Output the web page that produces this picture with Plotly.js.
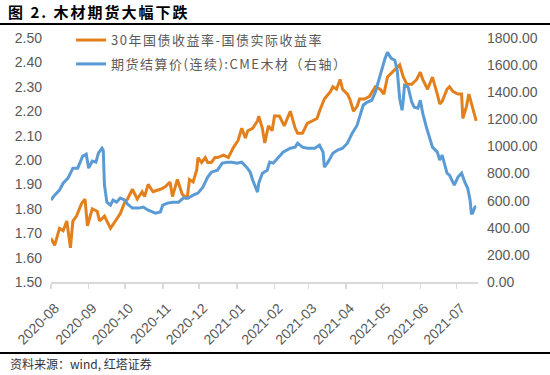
<!DOCTYPE html>
<html>
<head>
<meta charset="utf-8">
<script src="https://cdn.plot.ly/plotly-3.0.1.min.js"></script>
<style>
  html, body { margin: 0; padding: 0; background: #fff; }
  #chart { width: 550px; height: 375px; }
  .gtitle { letter-spacing: 2px; }
  .legendtext { letter-spacing: 1.5px; }
</style>
</head>
<body>
<div id="chart"></div>
<script>
// ---- data ----
const seriesNames = ['30年国债收益率-国债实际收益率', '期货结算价(连续):CME木材（右轴）'];

const yieldDates = [
  '2020-08-01','2020-08-04','2020-08-08','2020-08-11','2020-08-14','2020-08-17','2020-08-19','2020-08-22','2020-08-26','2020-08-29','2020-08-31',
  '2020-09-04','2020-09-08','2020-09-10','2020-09-14','2020-09-19','2020-09-23','2020-09-27',
  '2020-10-01','2020-10-03','2020-10-07','2020-10-11','2020-10-15','2020-10-17','2020-10-20','2020-10-24','2020-10-30',
  '2020-11-03','2020-11-07','2020-11-09','2020-11-13','2020-11-17','2020-11-21','2020-11-23','2020-11-26','2020-11-29','2020-11-30',
  '2020-12-03','2020-12-06','2020-12-08','2020-12-11','2020-12-14','2020-12-16','2020-12-21','2020-12-25','2020-12-29',
  '2021-01-02','2021-01-05','2021-01-08','2021-01-10','2021-01-14','2021-01-18','2021-01-19','2021-01-22','2021-01-24','2021-01-27','2021-01-30',
  '2021-02-01','2021-02-05','2021-02-09','2021-02-14','2021-02-18','2021-02-20','2021-02-24','2021-02-28',
  '2021-03-04','2021-03-08','2021-03-10','2021-03-14','2021-03-19','2021-03-21','2021-03-24','2021-03-27','2021-03-29',
  '2021-04-02','2021-04-04','2021-04-07','2021-04-10','2021-04-12','2021-04-16','2021-04-20','2021-04-25','2021-04-29',
  '2021-05-02','2021-05-05','2021-05-09','2021-05-13','2021-05-15','2021-05-18','2021-05-21','2021-05-25','2021-05-29',
  '2021-06-01','2021-06-03','2021-06-07','2021-06-11','2021-06-15','2021-06-17','2021-06-19','2021-06-23','2021-06-25','2021-06-28',
  '2021-07-02','2021-07-05','2021-07-06','2021-07-09','2021-07-11','2021-07-14','2021-07-17'
];
const yieldValues = [
  1.68,1.65,1.72,1.71,1.75,1.64,1.75,1.77,1.82,1.84,1.73,
  1.80,1.79,1.75,1.77,1.72,1.75,1.78,
  1.83,1.84,1.88,1.84,1.87,1.85,1.90,1.87,1.88,
  1.89,1.91,1.85,1.92,1.86,1.84,1.92,1.91,1.96,2.01,
  1.99,2.01,1.99,1.99,2.01,2.01,2.02,2.01,2.05,
  2.08,2.13,2.09,2.12,2.13,2.16,2.18,2.13,2.07,2.14,2.12,
  2.18,2.18,2.14,2.20,2.13,2.11,2.11,2.15,
  2.16,2.17,2.20,2.25,2.28,2.30,2.29,2.33,2.29,
  2.27,2.25,2.20,2.22,2.25,2.25,2.26,2.30,2.29,
  2.27,2.34,2.36,2.38,2.39,2.34,2.31,2.31,2.33,
  2.36,2.33,2.29,2.34,2.27,2.23,2.24,2.29,2.30,2.28,
  2.27,2.27,2.17,2.22,2.27,2.22,2.16
];

const lumberDates = [
  '2020-08-01','2020-08-04','2020-08-08','2020-08-11','2020-08-15','2020-08-19','2020-08-23','2020-08-27','2020-08-30',
  '2020-09-01','2020-09-04','2020-09-07','2020-09-09','2020-09-12','2020-09-13','2020-09-14','2020-09-16','2020-09-19','2020-09-21','2020-09-24','2020-09-27',
  '2020-10-01','2020-10-03','2020-10-07','2020-10-12','2020-10-16','2020-10-20','2020-10-26','2020-10-30',
  '2020-11-01','2020-11-05','2020-11-09','2020-11-14','2020-11-18','2020-11-22','2020-11-26','2020-11-30',
  '2020-12-04','2020-12-08','2020-12-11','2020-12-16','2020-12-20','2020-12-24','2020-12-28',
  '2021-01-01','2021-01-05','2021-01-09','2021-01-12','2021-01-14','2021-01-18','2021-01-19','2021-01-22','2021-01-26','2021-01-28','2021-01-31',
  '2021-02-04','2021-02-08','2021-02-14','2021-02-18','2021-02-20','2021-02-24','2021-02-28',
  '2021-03-06','2021-03-10','2021-03-13','2021-03-14','2021-03-17','2021-03-21','2021-03-25','2021-03-29',
  '2021-04-02','2021-04-06','2021-04-10','2021-04-12','2021-04-15','2021-04-18','2021-04-22','2021-04-25','2021-04-27','2021-04-30',
  '2021-05-03','2021-05-05','2021-05-08','2021-05-11','2021-05-13','2021-05-15','2021-05-17','2021-05-18','2021-05-19','2021-05-22','2021-05-25','2021-05-27','2021-05-30',
  '2021-06-01','2021-06-03','2021-06-06','2021-06-09','2021-06-11','2021-06-15','2021-06-17','2021-06-19','2021-06-23','2021-06-25','2021-06-29',
  '2021-07-02','2021-07-05','2021-07-08','2021-07-10','2021-07-12','2021-07-13','2021-07-14','2021-07-16','2021-07-17'
];
const lumberValues = [
  604,641,678,729,766,840,840,928,943,
  840,892,884,950,987,973,715,589,567,604,589,619,
  604,575,545,545,553,530,508,516,
  567,582,589,589,619,619,641,656,
  700,774,810,825,877,884,884,
  877,884,847,810,752,663,729,803,825,884,877,
  921,958,987,995,1024,995,987,
  987,1009,958,847,884,950,973,987,
  1024,1098,1157,1216,1304,1326,1341,1400,1466,1562,
  1650,1695,1650,1636,1562,1356,1267,1341,1451,1437,1326,1289,1282,
  1341,1245,1142,1046,995,958,899,936,803,788,715,
  774,803,729,693,604,508,508,553,555
];

const leftRange = [1.5, 2.5];
const rightRange = [0, 1800];
const titleText = '图 2. 木材期货大幅下跌';
const sourceText = '资料来源：wind, 红塔证券';

// ---- chart ----
const numFont = 'Liberation Sans, Arial, sans-serif';
const cjkFont = 'Noto Sans CJK SC, sans-serif';

const traces = [
  {
    x: yieldDates, y: yieldValues, name: seriesNames[0], type: 'scatter', mode: 'lines',
    line: {color: '#E3801C', width: 3}, yaxis: 'y', legendgroup: 'a'
  },
  {
    x: lumberDates, y: lumberValues, name: seriesNames[1], type: 'scatter', mode: 'lines',
    line: {color: '#5B9BD5', width: 3}, yaxis: 'y2', legendgroup: 'b'
  }
];

const layout = {
  width: 550, height: 375,
  margin: {l: 51, r: 72, t: 38, b: 93, pad: 0},
  paper_bgcolor: '#ffffff', plot_bgcolor: '#ffffff',
  font: {family: numFont, size: 14, color: '#595959'},
  title: {
    text: titleText, xref: 'container', x: 8/550, xanchor: 'left',
    yref: 'container', y: 1 - 13/375, yanchor: 'middle',
    font: {family: cjkFont, size: 15, color: '#000000', weight: 'bold'}
  },
  showlegend: true,
  legend: {
    x: 0.047, y: 1.053, xanchor: 'left', yanchor: 'top',
    bgcolor: 'rgba(0,0,0,0)', traceorder: 'grouped', tracegroupgap: 4,
    font: {family: cjkFont, size: 13, color: '#595959'}
  },
  xaxis: {
    type: 'date', range: ['2020-08-01', '2021-07-18 12:00'],
    tick0: '2020-08-01', dtick: 'M1', tickformat: '%Y-%m', tickangle: -45,
    ticks: 'outside', ticklen: 5, tickcolor: '#d9d9d9', tickwidth: 1.5,
    ticklabelstandoff: 6, ticklabelshift: 4,
    showline: true, linecolor: '#d9d9d9', linewidth: 1.5,
    showgrid: false, zeroline: false,
    tickfont: {family: numFont, size: 14, color: '#595959'}
  },
  yaxis: {
    range: leftRange, dtick: 0.1, tick0: 1.5, tickformat: '.2f',
    showgrid: false, zeroline: false, showline: false, ticks: '',
    ticklabelstandoff: 8,
    tickfont: {family: numFont, size: 14, color: '#595959'}
  },
  yaxis2: {
    range: rightRange, dtick: 200, tick0: 0, tickformat: '.2f',
    overlaying: 'y', side: 'right',
    showgrid: false, zeroline: false, showline: false, ticks: '',
    ticklabelstandoff: 8,
    tickfont: {family: numFont, size: 14, color: '#595959'}
  },
  shapes: [
    {type: 'line', xref: 'paper', yref: 'paper', x0: -0.1194, x1: 1.1686, y0: 1.0574, y1: 1.0574,
     line: {color: '#000000', width: 2}},
    {type: 'line', xref: 'paper', yref: 'paper', x0: -0.1194, x1: 1.1686, y0: -0.291, y1: -0.291,
     line: {color: '#000000', width: 2}}
  ],
  annotations: [
    {text: sourceText, xref: 'paper', yref: 'paper', x: -0.1007, y: -0.336,
     xanchor: 'left', yanchor: 'middle', showarrow: false,
     font: {family: cjkFont, size: 12, color: '#333333'}}
  ]
};

Plotly.newPlot('chart', traces, layout, {displayModeBar: false, staticPlot: true});
</script>
</body>
</html>
